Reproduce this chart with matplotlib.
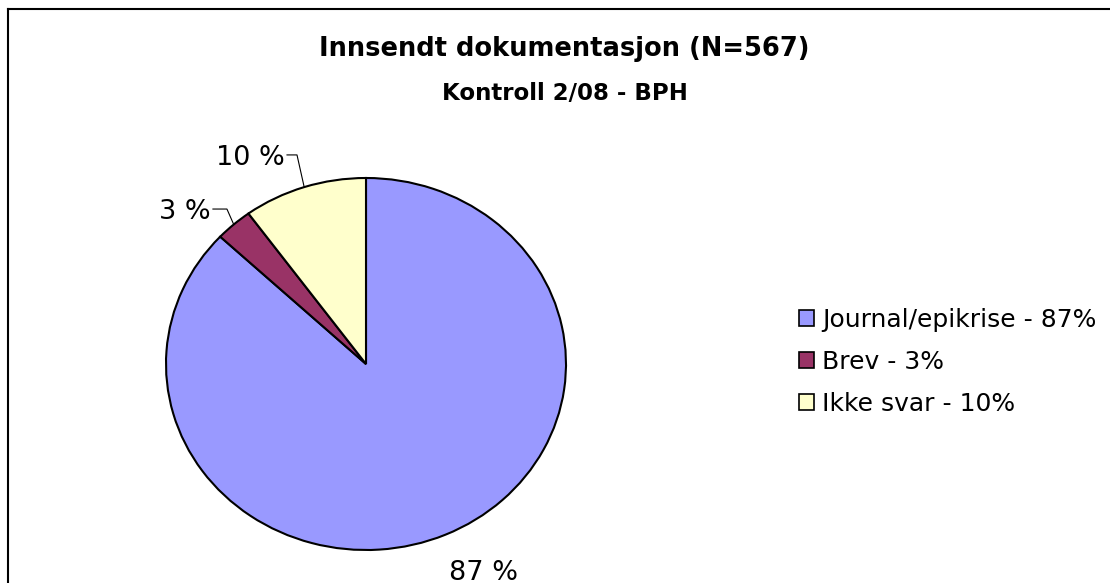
import numpy as np
import matplotlib
matplotlib.use("Agg")
import matplotlib.pyplot as plt
from matplotlib.patches import Patch

# data
CATEGORIES = ["Journal/epikrise", "Brev", "Ikke svar"]
SHARES = [87, 3, 10]
COLORS = ["#9999ff", "#993366", "#ffffcc"]
TITLE = "Innsendt dokumentasjon (N=567)"
SUBTITLE = "Kontroll 2/08 - BPH"

W, H = 1110, 583
fig = plt.figure(figsize=(W / 100, H / 100), dpi=100, facecolor="white")

# pie area in pixels: x 166..566, y 178..550 (slightly squashed like the original)
ax = fig.add_axes([166 / W, (H - 550) / H, 400 / W, 372 / H])
wedges, _ = ax.pie(SHARES, colors=COLORS, startangle=90, counterclock=False,
                   wedgeprops=dict(edgecolor="black", linewidth=1.5))
ax.set_aspect("auto")
ax.set_xlim(-1, 1)
ax.set_ylim(-1, 1)
ax.axis("off")

# data labels, placed from each wedge's mid angle
label_fs = 19.5
for w, val in zip(wedges, SHARES):
    mid = np.deg2rad((w.theta1 + w.theta2) / 2)
    ex, ey = np.cos(mid), np.sin(mid)
    txt = f"{val} %"
    if val >= 50:
        ax.text(ex + 0.19, -1.162, txt, ha="center", va="baseline",
                fontsize=label_fs, color="black")
    else:
        if val >= 10:
            elbow = (ex - 0.036, ey + 0.173)
            end_x = elbow[0] - 0.05
        else:
            elbow = (ex - 0.034, ey + 0.083)
            end_x = elbow[0] - 0.07
        ax.plot([ex, elbow[0], end_x], [ey, elbow[1], elbow[1]],
                color="black", lw=0.8, clip_on=False)
        ax.text(end_x - 0.01, elbow[1] - 0.055, txt, ha="right", va="baseline",
                fontsize=label_fs, color="black")

# titles
fig.text(564 / W, 1 - 49 / H, TITLE, ha="center", va="center",
         fontsize=18.5, fontweight="bold")
fig.text(565 / W, 1 - 93 / H, SUBTITLE, ha="center", va="center",
         fontsize=16.5, fontweight="bold")

# legend
handles = [Patch(facecolor=c, edgecolor="black", linewidth=1.2) for c in COLORS]
labels = [f"{c} - {s}%" for c, s in zip(CATEGORIES, SHARES)]
fig.legend(handles, labels, loc="upper left", bbox_to_anchor=(799 / W, 1 - 308 / H),
           frameon=False, fontsize=18, handlelength=0.6, handleheight=0.6,
           handletextpad=0.33, labelspacing=0.72, borderpad=0, borderaxespad=0)

# chart border (only top and left edges visible in the crop)
fig.add_artist(plt.Line2D([8 / W, 8 / W], [0, 1 - 9 / H], transform=fig.transFigure,
                          color="black", linewidth=1.5))
fig.add_artist(plt.Line2D([8 / W, 1], [1 - 9 / H, 1 - 9 / H], transform=fig.transFigure,
                          color="black", linewidth=1.5))

fig.savefig("out.png", dpi=100, facecolor="white")
plt.close(fig)
